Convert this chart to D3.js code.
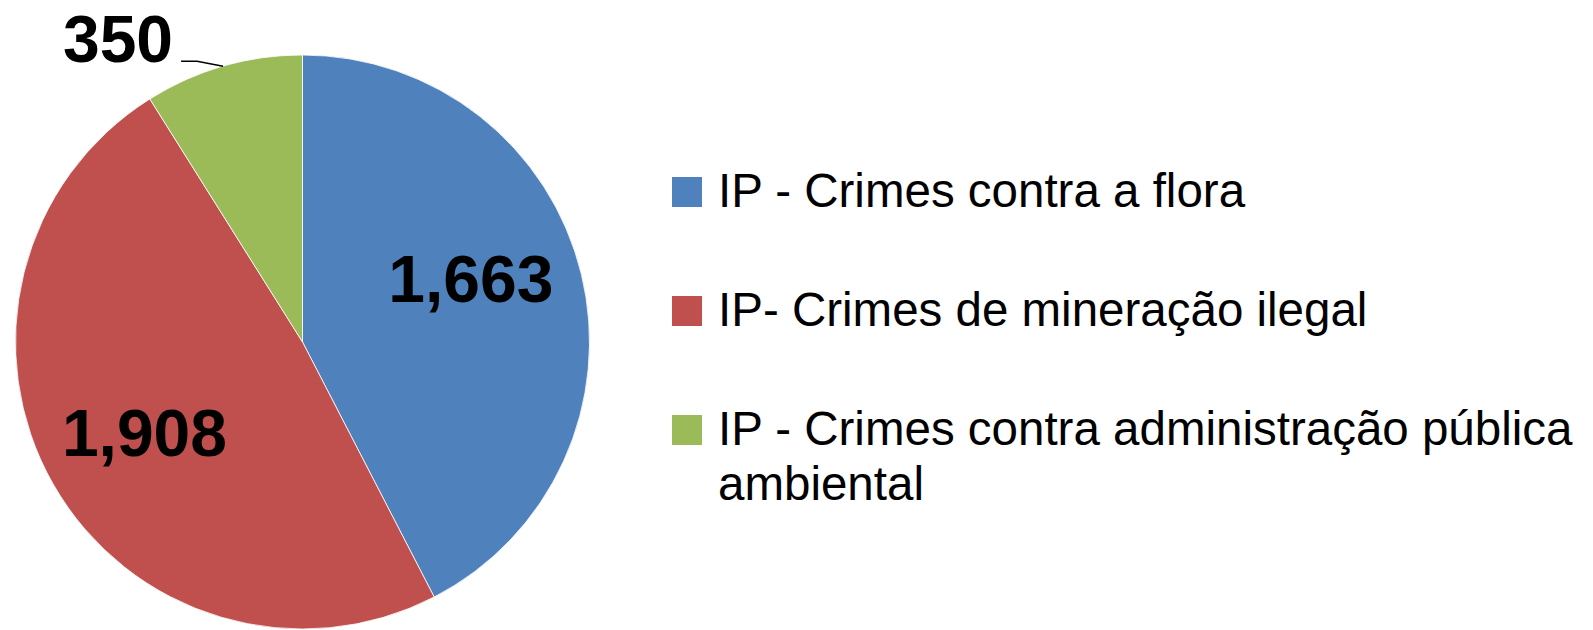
<!DOCTYPE html>
<html>
<head>
<meta charset="utf-8">
<script src="https://cdn.jsdelivr.net/npm/d3@7"></script>
<style>
  html, body { margin: 0; padding: 0; background: #ffffff; }
  svg { display: block; }
</style>
</head>
<body>
<svg id="chart" width="1593" height="630"></svg>
<script>
const categories = [
  "IP - Crimes contra a flora",
  "IP- Crimes de mineração ilegal",
  "IP - Crimes contra administração pública\nambiental"
];
const values = [1663, 1908, 350];
const valueLabels = ["1,663", "1,908", "350"];
const colors = ["#4F81BD", "#C0504D", "#9BBB59"];

const svg = d3.select("#chart");
const cx = 302.5, cy = 342, R = 287;

const pie = d3.pie().sort(null).value(d => d)(values);
const arc = d3.arc().innerRadius(0).outerRadius(R);

const g = svg.append("g").attr("transform", `translate(${cx},${cy})`);
g.selectAll("path.slice").data(pie).join("path")
  .attr("class", "slice")
  .attr("d", arc)
  .attr("fill", (d, i) => colors[i])
  .attr("stroke", "#ffffff")
  .attr("stroke-width", 0.8);

const labelFont = "'Liberation Sans', Arial, sans-serif";
// inside labels
const inside = [0, 1];
const angleShift = [-7 * Math.PI / 180, 0];
const labelR = [180, 182];
inside.forEach((i, k) => {
  const d = pie[i];
  const a = (d.startAngle + d.endAngle) / 2 + angleShift[k];
  const x = Math.sin(a) * labelR[k];
  const y = -Math.cos(a) * labelR[k];
  g.append("text")
    .attr("x", x).attr("y", y + 23.5)
    .attr("text-anchor", "middle")
    .attr("font-family", labelFont)
    .attr("font-weight", "bold")
    .attr("font-size", 66)
    .attr("fill", "#000")
    .text(valueLabels[i]);
});

// outside label with leader line
{
  const d = pie[2];
  const a = (d.startAngle + d.endAngle) / 2;
  const ex = Math.sin(a) * R, ey = -Math.cos(a) * R;
  const kx = ex - 26, ky = ey - 5;
  const sx = kx - 16, sy = ky;
  g.append("path")
    .attr("d", `M${sx},${sy}L${kx},${ky}L${ex},${ey}`)
    .attr("fill", "none")
    .attr("stroke", "#000")
    .attr("stroke-width", 1.6);
  g.append("text")
    .attr("x", sx - 8).attr("y", sy + 0.5)
    .attr("text-anchor", "end")
    .attr("font-family", labelFont)
    .attr("font-weight", "bold")
    .attr("font-size", 66)
    .attr("fill", "#000")
    .text(valueLabels[2]);
}

// legend
const legX = 672, legTop = 177, legStep = 119, sq = 30;
const textX = 718, lineH = 55;
const leg = svg.append("g");
categories.forEach((c, i) => {
  const y0 = legTop + i * legStep;
  leg.append("rect")
    .attr("x", legX).attr("y", y0)
    .attr("width", sq).attr("height", sq)
    .attr("fill", colors[i]);
  const lines = c.split("\n");
  lines.forEach((ln, j) => {
    leg.append("text")
      .attr("x", textX).attr("y", y0 + 30 + j * lineH)
      .attr("font-family", labelFont)
      .attr("font-size", 47.5)
      .attr("fill", "#000")
      .text(ln);
  });
});
</script>
</body>
</html>
